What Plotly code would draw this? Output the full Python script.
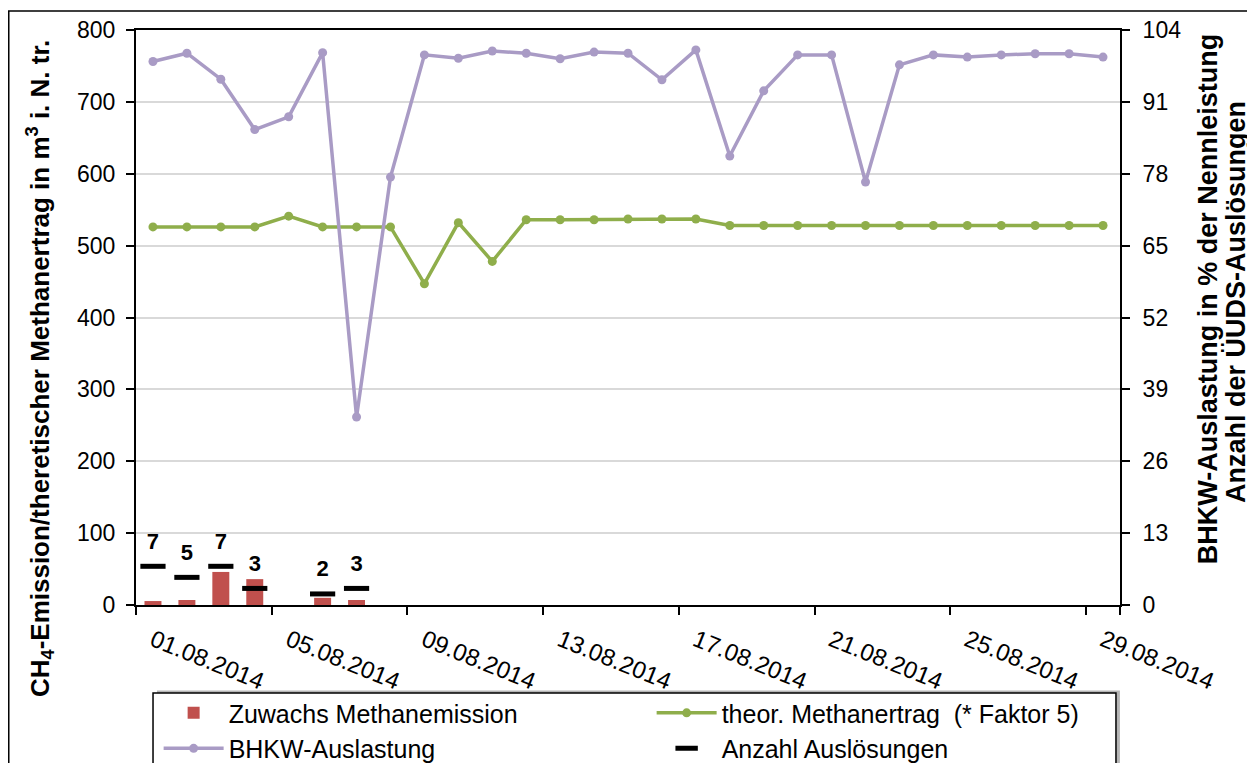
import plotly.graph_objects as go

# Daten
dates = [f"{d:02d}.08.2014" for d in range(1, 30)]
label_dates = dates[::4]

zuwachs = [5.5, 7, 46, 36, None, 10, 7] + [None] * 22
methanertrag = [526, 526, 526, 526, 541, 526, 526, 526, 447, 532, 478, 536,
                536, 536, 537, 537, 537, 528, 528, 528, 528, 528, 528, 528,
                528, 528, 528, 528, 528]
bhkw = [98.3, 99.8, 95.1, 86.0, 88.3, 99.9, 34.0, 77.4, 99.5, 98.9, 100.2,
        99.8, 98.8, 100.0, 99.8, 95.0, 100.4, 81.2, 93.0, 99.5, 99.5, 76.5,
        97.7, 99.5, 99.1, 99.5, 99.7, 99.7, 99.1]
ausl_idx = [0, 1, 2, 3, 5, 6]
ausloesungen = [7, 5, 7, 3, 2, 3]

x = list(range(len(dates)))
FONT = "Liberation Sans, Arial, sans-serif"

fig = go.Figure()

fig.add_trace(go.Bar(
    x=x, y=zuwachs, name="Zuwachs Methanemission",
    marker=dict(color="#C0504D", line=dict(width=0)), width=0.5,
))
fig.add_trace(go.Scatter(
    x=x, y=methanertrag, name="theor. Methanertrag  (* Faktor 5)",
    mode="lines+markers", line=dict(color="#8FAE4B", width=3.5),
    marker=dict(size=9, color="#8FAE4B"),
))
fig.add_trace(go.Scatter(
    x=x, y=bhkw, name="BHKW-Auslastung", yaxis="y2",
    mode="lines+markers", line=dict(color="#A99BC5", width=3.5),
    marker=dict(size=9, color="#A99BC5"),
))
fig.add_trace(go.Scatter(
    x=ausl_idx, y=ausloesungen, name="Anzahl Auslösungen", yaxis="y2",
    mode="markers+text", text=[str(v) for v in ausloesungen],
    textposition="top center",
    textfont=dict(family=FONT, size=22, color="black", weight="bold"),
    marker=dict(symbol="line-ew", size=18, line=dict(width=5, color="black")),
))

fig.update_layout(
    width=1247, height=755,
    margin=dict(l=128, r=135, t=22, b=158, autoexpand=False),
    paper_bgcolor="white", plot_bgcolor="white",
    font=dict(family=FONT, size=23, color="black"),
    bargap=0.5,
    xaxis=dict(
        range=[-0.5, 28.5], tickmode="array",
        tickvals=x[::4], ticktext=label_dates, tickangle=22,
        ticks="", showgrid=False, zeroline=False,
        showline=True, linecolor="black", linewidth=2, mirror=True,
        tickfont=dict(size=24), automargin=False, ticklabelstandoff=10,
        minor=dict(tickmode="array", tickvals=[i - 0.5 for i in range(0, 29, 4)] + [28.5],
                   ticks="outside", ticklen=8, tickcolor="black", tickwidth=2,
                   showgrid=False),
    ),
    yaxis=dict(
        range=[0, 800], dtick=100, ticks="outside", ticklen=8,
        tickcolor="black", tickwidth=1.5, automargin=False,
        showline=True, linecolor="black", linewidth=2, mirror=True,
        gridcolor="#D9D9D9", gridwidth=2, zeroline=False,
        tickfont=dict(size=23), ticklabelstandoff=6,
    ),
    yaxis2=dict(
        range=[0, 104], dtick=13, overlaying="y", side="right",
        ticks="outside", ticklen=8, tickcolor="black", tickwidth=1.5,
        showline=True, linecolor="black", linewidth=2, automargin=False,
        showgrid=False, zeroline=False, tickfont=dict(size=23),
        ticklabelstandoff=8,
    ),
    showlegend=True,
    legend=dict(
        orientation="h", x=0.023, y=-0.148, xanchor="left", yanchor="top",
        bgcolor="rgba(0,0,0,0)", borderwidth=0,
        font=dict(size=25), entrywidth=418, traceorder="normal",
        itemwidth=60, tracegroupgap=0,
    ),
    annotations=[
        dict(text="CH<sub>4</sub>-Emission/theretischer Methanertrag in m<sup>3</sup> i. N. tr.",
             xref="paper", yref="paper", x=-0.0976, y=0.412,
             xanchor="center", yanchor="middle",
             textangle=-90, showarrow=False, font=dict(size=26, weight="bold")),
        dict(text="BHKW-Auslastung in % der Nennleistung",
             xref="paper", yref="paper", x=1.0895, y=0.532,
             xanchor="center", yanchor="middle",
             textangle=-90, showarrow=False, font=dict(size=27, weight="bold")),
        dict(text="Anzahl der ÜUDS-Auslösungen",
             xref="paper", yref="paper", x=1.118, y=0.527,
             xanchor="center", yanchor="middle",
             textangle=-90, showarrow=False, font=dict(size=27, weight="bold")),
    ],
    shapes=[
        # Rahmen um das ganze Diagramm
        dict(type="rect", xref="paper", yref="paper",
             x0=-0.1293, x1=1.3, y0=-0.5, y1=1.033,
             line=dict(color="black", width=1.5), layer="below"),
        # Legendenrahmen mit Schatten
        dict(type="rect", xref="paper", yref="paper",
             x0=0.0213, x1=0.9999, y0=-0.3, y1=-0.1487,
             line=dict(width=0), fillcolor="#B5B5B5", layer="below"),
        dict(type="rect", xref="paper", yref="paper",
             x0=0.0173, x1=0.9959, y0=-0.3, y1=-0.1530,
             line=dict(color="black", width=1.5), fillcolor="white", layer="below"),
    ],
)

fig.write_html("out.html")
